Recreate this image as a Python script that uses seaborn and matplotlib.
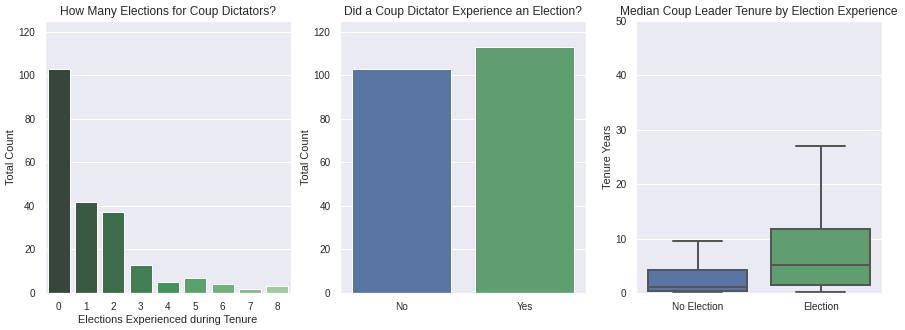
import matplotlib
matplotlib.use("Agg")
import matplotlib.pyplot as plt
import seaborn as sns
import pandas as pd

# Number of elections experienced by coup leaders during their tenure
elections = [0, 1, 2, 3, 4, 5, 6, 7, 8]
election_counts = [103, 42, 37, 13, 5, 7, 4, 2, 3]

# Whether a coup leader experienced any election
experienced = ["No", "Yes"]
experienced_counts = [103, 113]

# Tenure (years) summary points per group: low whisker, Q1, median, Q3, high whisker
tenure_groups = ["No Election", "Election"]
tenure_no_election = [0.1, 0.42, 1.15, 4.2, 9.6]
tenure_election = [0.18, 1.5, 5.15, 11.8, 27.0]

deep_old = ["#4C72B0", "#55A868"]

sns.set_theme(style="darkgrid", context="notebook")
plt.rcParams["font.family"] = ["Liberation Sans", "DejaVu Sans"]
plt.rcParams["axes.titlesize"] = 12
plt.rcParams["axes.labelsize"] = 11
plt.rcParams["xtick.labelsize"] = 10
plt.rcParams["ytick.labelsize"] = 10
plt.rcParams["axes.labelpad"] = 2.5
plt.rcParams["text.color"] = "#262626"
plt.rcParams["axes.labelcolor"] = "#262626"
plt.rcParams["xtick.color"] = "#262626"
plt.rcParams["ytick.color"] = "#262626"

W, H = 905, 330
fig = plt.figure(figsize=(W / 72, H / 72), dpi=72)

def add_axes(left_px):
    return fig.add_axes([left_px / W, (H - 293) / H, 246 / W, 272 / H])

ax1 = add_axes(45)
ax2 = add_axes(340)
ax3 = add_axes(636)

# Panel 1: distribution of elections
df1 = pd.DataFrame({"elections": elections, "count": election_counts})
greens = sns.color_palette("Greens_d", len(elections))[::-1]
sns.barplot(data=df1, x="elections", y="count", hue="elections",
            palette=greens, legend=False, ax=ax1, saturation=0.75)
ax1.set_ylim(0, 125)
ax1.set_yticks(range(0, 121, 20))
ax1.set_title("How Many Elections for Coup Dictators?")
ax1.set_xlabel("Elections Experienced during Tenure")
ax1.set_ylabel("Total Count")

# Panel 2: any election or not
df2 = pd.DataFrame({"experienced": experienced, "count": experienced_counts})
sns.barplot(data=df2, x="experienced", y="count", hue="experienced",
            palette=deep_old, legend=False, ax=ax2, saturation=0.75)
ax2.set_ylim(0, 125)
ax2.set_yticks(range(0, 121, 20))
ax2.set_title("Did a Coup Dictator Experience an Election?")
ax2.set_xlabel("")
ax2.set_ylabel("Total Count")

# Panel 3: tenure by election experience
df3 = pd.DataFrame({
    "group": [tenure_groups[0]] * len(tenure_no_election) + [tenure_groups[1]] * len(tenure_election),
    "tenure": tenure_no_election + tenure_election,
})
sns.boxplot(data=df3, x="group", y="tenure", hue="group", order=tenure_groups,
            palette=deep_old, legend=False, ax=ax3, showfliers=False,
            linewidth=2, saturation=0.75, linecolor="#555555")
ax3.set_ylim(0, 50)
ax3.set_yticks(range(0, 51, 10))
ax3.set_title("Median Coup Leader Tenure by Election Experience")
ax3.set_xlabel("")
ax3.set_ylabel("Tenure Years")

fig.savefig("out.png", dpi=72)
